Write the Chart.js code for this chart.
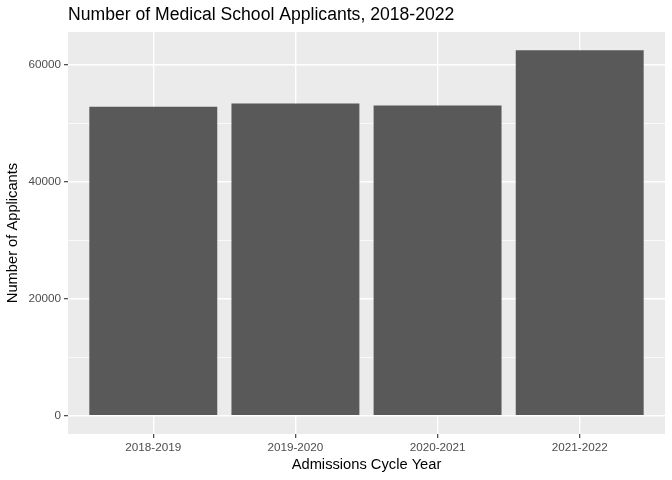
<!DOCTYPE html>
<html>
<head>
<meta charset="utf-8">
<script src="https://cdn.jsdelivr.net/npm/chart.js@4/dist/chart.umd.min.js"></script>
<style>
    html, body { margin: 0; padding: 0; background: #fff; }
    #wrap { width: 672px; height: 480px; }
</style>
</head>
<body>
<div id="wrap"><canvas id="applicantsChart" width="672" height="480"></canvas></div>
<script>
const years = ['2018-2019', '2019-2020', '2020-2021', '2021-2022'];
const applicants = [52777, 53371, 53030, 62443];
const yTicks = [0, 10000, 20000, 30000, 40000, 50000, 60000];
const yLabelled = [0, 20000, 40000, 60000];

const FONT = "'Liberation Sans', Arial, Helvetica, sans-serif";

// grey panel behind the grid, ggplot style
const panelBackground = {
    id: 'panelBackground',
    beforeDraw(chart) {
        const { ctx, chartArea } = chart;
        ctx.save();
        ctx.fillStyle = '#EBEBEB';
        ctx.fillRect(chartArea.left, chartArea.top, chartArea.right - chartArea.left, chartArea.bottom - chartArea.top);
        ctx.restore();
    }
};

document.addEventListener('DOMContentLoaded', () => {
    const ctx = document.getElementById('applicantsChart').getContext('2d');
    const top = Math.max(...applicants);

    new Chart(ctx, {
        type: 'bar',
        data: {
            datasets: [{
                data: years.map((_, i) => ({ x: i + 1, y: applicants[i] })),
                backgroundColor: '#595959',
                borderColor: '#595959',
                borderWidth: 0,
                inflateAmount: 0,
                barPercentage: 0.9,
                categoryPercentage: 1
            }]
        },
        plugins: [panelBackground],
        options: {
            responsive: false,
            animation: false,
            layout: { padding: { left: 0, right: 7, top: 0, bottom: 0 } },
            plugins: {
                legend: { display: false },
                tooltip: { enabled: false },
                title: {
                    display: true,
                    text: 'Number of Medical School Applicants, 2018-2022',
                    align: 'start',
                    fullSize: false,
                    color: '#000',
                    font: { family: FONT, size: 17.6, weight: 'normal' },
                    padding: { top: 4.5, bottom: 6.4 }
                }
            },
            scales: {
                x: {
                    type: 'linear',
                    min: 0.4,
                    max: 4.6,
                    offset: false,
                    afterBuildTicks: (scale) => {
                        scale.ticks = years.map((_, i) => ({ value: i + 1 }));
                    },
                    afterFit: (scale) => { scale.height = 46; },
                    ticks: {
                        callback: (value) => years[value - 1],
                        color: '#4D4D4D',
                        font: { family: FONT, size: 11.7 },
                        padding: 3,
                        maxRotation: 0
                    },
                    grid: {
                        offset: false,
                        color: '#FFFFFF',
                        lineWidth: 1.4,
                        tickColor: '#333333',
                        tickLength: 4,
                        tickWidth: 1.1
                    },
                    border: { display: false },
                    title: {
                        display: true,
                        text: 'Admissions Cycle Year',
                        color: '#000',
                        font: { family: FONT, size: 14.7 },
                        padding: { top: 0, bottom: 6 }
                    }
                },
                y: {
                    type: 'linear',
                    min: -top * 0.05,
                    max: top * 1.05,
                    afterBuildTicks: (scale) => {
                        scale.ticks = yTicks.map(v => ({ value: v }));
                    },
                    afterFit: (scale) => { scale.width = 68; },
                    ticks: {
                        callback: (value) => yLabelled.includes(value) ? String(value) : '',
                        color: '#4D4D4D',
                        font: { family: FONT, size: 11.7 },
                        padding: 3
                    },
                    grid: {
                        color: '#FFFFFF',
                        lineWidth: (c) => yLabelled.includes(c.tick.value) ? 1.4 : 0.7,
                        tickColor: (c) => yLabelled.includes(c.tick.value) ? '#333333' : 'rgba(0,0,0,0)',
                        tickLength: 4,
                        tickWidth: 1.1
                    },
                    border: { display: false },
                    title: {
                        display: true,
                        text: 'Number of Applicants',
                        color: '#000',
                        font: { family: FONT, size: 14.7 },
                        padding: { top: 4, bottom: 0 }
                    }
                }
            }
        }
    });
});
</script>
</body>
</html>
